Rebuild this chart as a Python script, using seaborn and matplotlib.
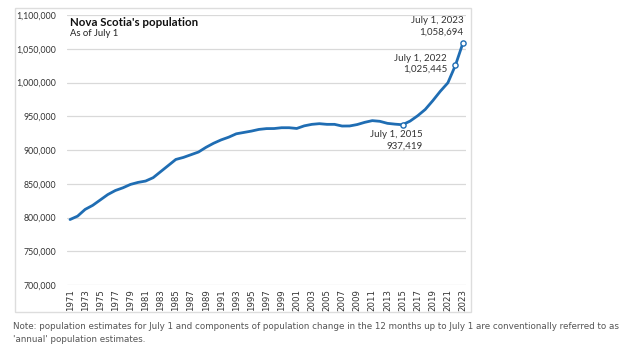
import matplotlib
matplotlib.use("Agg")
import matplotlib.pyplot as plt
import matplotlib.patches as mpatches
import matplotlib.ticker as mticker
import seaborn as sns
import pandas as pd

years = list(range(1971, 2024))
population = [
    797000, 802000, 812000, 818000, 826000, 834000, 840000, 844000, 849000, 852000,
    854000, 859000, 868000, 877000, 886000, 889000, 893000, 897000, 904000, 910000,
    915000, 919000, 924000, 926000, 928000, 930500, 931700, 931800, 933000, 933000,
    931900, 935800, 938000, 939000, 938000, 938000, 935500, 935600, 937700, 941000,
    943500, 942500, 939500, 938300, 937419, 942800, 950700, 960000, 973000, 987000,
    999500, 1025445, 1058694,
]
highlight_years = [2015, 2022, 2023]
highlight_labels = ["July 1, 2015\n937,419", "July 1, 2022\n1,025,445", "July 1, 2023\n1,058,694"]
xtick_years = list(range(1971, 2024, 2))
yticks = [700000, 750000, 800000, 850000, 900000, 950000, 1000000, 1050000, 1100000]

title = "Nova Scotia's population"
subtitle = "As of July 1"
note = ("Note: population estimates for July 1 and components of population change in the 12 months up to July 1 are conventionally referred to as\n"
        "'annual' population estimates.")

df = pd.DataFrame({"year": years, "population": population})
hl = df[df["year"].isin(highlight_years)]

sns.set_theme(style="white")
plt.rcParams["font.family"] = ["Lato", "DejaVu Sans"]

W, H = 624, 360
fig = plt.figure(figsize=(W / 100, H / 100), dpi=100)
ax = fig.add_axes([67 / W, 1 - 285 / H, (466 - 67) / W, (285 - 15) / H])

line_color = "#1f6db3"
sns.lineplot(data=df, x="year", y="population", ax=ax, color=line_color, linewidth=2.0)
sns.scatterplot(data=hl, x="year", y="population", ax=ax, s=14, facecolor="white",
                edgecolor=line_color, linewidth=1.0, zorder=5)

ax.set_xlim(1970.6, 2023.4)
ax.set_ylim(700000, 1100000)
ax.set_yticks(yticks)
ax.yaxis.set_major_formatter(mticker.FuncFormatter(lambda v, p: f"{int(v):,}"))
ax.set_xticks(xtick_years)
ax.set_xticklabels([str(y) for y in xtick_years], rotation=90, fontsize=6.2,
                   family="DejaVu Sans", color="#333333")
for lbl in ax.get_yticklabels():
    lbl.set_fontsize(6.3)
    lbl.set_color("#333333")
ax.tick_params(axis="both", length=0, pad=3)
ax.tick_params(axis="y", pad=8)
ax.grid(axis="y", color="#d9d9d9", linewidth=0.9)
ax.set_axisbelow(True)
for s in ax.spines.values():
    s.set_visible(False)
ax.set_xlabel("")
ax.set_ylabel("")

# annotations
text_pos = {
    2015: (2017.7, 929000, "top"),
    2022: (2020.9, 1027500, "center"),
    2023: (2023.1, 1068000, "bottom"),
}
for yr, lab in zip(highlight_years, highlight_labels):
    tx, ty, va = text_pos[yr]
    ax.text(tx, ty, lab, ha="right", va=va, fontsize=7, color="#333333", linespacing=1.3)

ax.text(1971, 1096500, title, fontsize=8.3, fontweight="bold", color="#111111", va="top")
ax.text(1971, 1079500, subtitle, fontsize=6.8, color="#222222", va="top")

# outer frame
fig.patches.append(mpatches.Rectangle((15 / W, 1 - 312 / H), (471 - 15) / W, (312 - 8) / H,
                                      transform=fig.transFigure, fill=False,
                                      edgecolor="#dddddd", linewidth=1.0))

fig.text(13 / W, 1 - 322 / H, note, fontsize=6.33, family="DejaVu Sans", color="#555555",
         va="top", linespacing=1.6)

fig.savefig("out.png", dpi=100)
